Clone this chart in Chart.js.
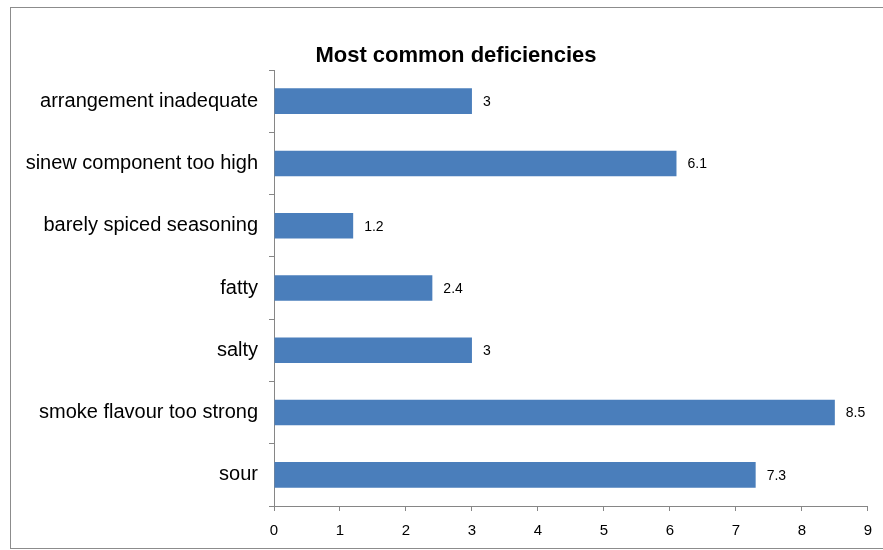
<!DOCTYPE html>
<html>
<head>
<meta charset="utf-8">
<title>Most common deficiencies</title>
<script src="https://cdn.jsdelivr.net/npm/chart.js@4/dist/chart.umd.min.js"></script>
<style>
    html, body { margin: 0; padding: 0; background: #fff; overflow: hidden; }
    canvas { display: block; }
</style>
</head>
<body>
<canvas id="chart" width="883" height="550"></canvas>
<script>
// ── Data ─────────────────────────────────────────────────────
const categories = [
    'arrangement inadequate',
    'sinew component too high',
    'barely spiced seasoning',
    'fatty',
    'salty',
    'smoke flavour too strong',
    'sour'
];
const counts     = [3, 6.1, 1.2, 2.4, 3, 8.5, 7.3];
const xTicks     = [0, 1, 2, 3, 4, 5, 6, 7, 8, 9];

const titleText  = 'Most common deficiencies';
const axisColor  = '#868686';
const barColor   = '#4A7EBB';
const fontFamily = '"Liberation Sans", Arial, sans-serif';

// ── Frame around the whole chart ─────────────────────────────
const framePlugin = {
    id: 'frame',
    beforeDraw(chart) {
        const ctx = chart.ctx;
        ctx.save();
        ctx.strokeStyle = '#8c8c8c';
        ctx.lineWidth = 1;
        ctx.strokeRect(10.5, 7.5, 900, 541);
        ctx.restore();
    }
};

// ── Title, centred over the frame ────────────────────────────
const titlePlugin = {
    id: 'frameTitle',
    afterDraw(chart) {
        const ctx = chart.ctx;
        ctx.save();
        ctx.font = 'bold 22px ' + fontFamily;
        ctx.fillStyle = '#000';
        ctx.textAlign = 'center';
        ctx.textBaseline = 'middle';
        ctx.fillText(titleText, 456, 56);
        ctx.restore();
    }
};

// ── Value labels at the end of each bar ──────────────────────
const valueLabels = {
    id: 'valueLabels',
    afterDatasetsDraw(chart) {
        const ctx = chart.ctx;
        const meta = chart.getDatasetMeta(0);
        ctx.save();
        ctx.font = '14px ' + fontFamily;
        ctx.fillStyle = '#000';
        ctx.textAlign = 'left';
        ctx.textBaseline = 'middle';
        meta.data.forEach((bar, i) => {
            ctx.fillText(String(counts[i]), bar.x + 11, bar.y + 1);
        });
        ctx.restore();
    }
};

new Chart(document.getElementById('chart'), {
    type: 'bar',
    data: {
        labels: categories,
        datasets: [{
            data: counts,
            backgroundColor: barColor,
            borderWidth: 0,
            barPercentage: 0.41,
            categoryPercentage: 1.0
        }]
    },
    options: {
        indexAxis: 'y',
        responsive: false,
        animation: false,
        layout: { padding: { top: 70, right: 15, bottom: 0, left: 0 } },
        plugins: {
            legend: { display: false },
            title: { display: false },
            tooltip: { enabled: false }
        },
        scales: {
            x: {
                min: 0,
                max: 9,
                afterBuildTicks: s => { s.ticks = xTicks.map(v => ({ value: v })); },
                afterFit: s => { s.height = 44; },
                grid: { drawOnChartArea: false, drawTicks: true, tickLength: 5, color: axisColor },
                border: { display: true, color: axisColor },
                ticks: { color: '#000', padding: 11, font: { family: fontFamily, size: 15 } }
            },
            y: {
                afterFit: s => { s.width = 274; },
                grid: { drawOnChartArea: false, drawTicks: true, tickLength: 5, color: axisColor, offset: true },
                border: { display: true, color: axisColor },
                ticks: { color: '#000', padding: 11, font: { family: fontFamily, size: 20 } }
            }
        }
    },
    plugins: [framePlugin, titlePlugin, valueLabels]
});
</script>
</body>
</html>
